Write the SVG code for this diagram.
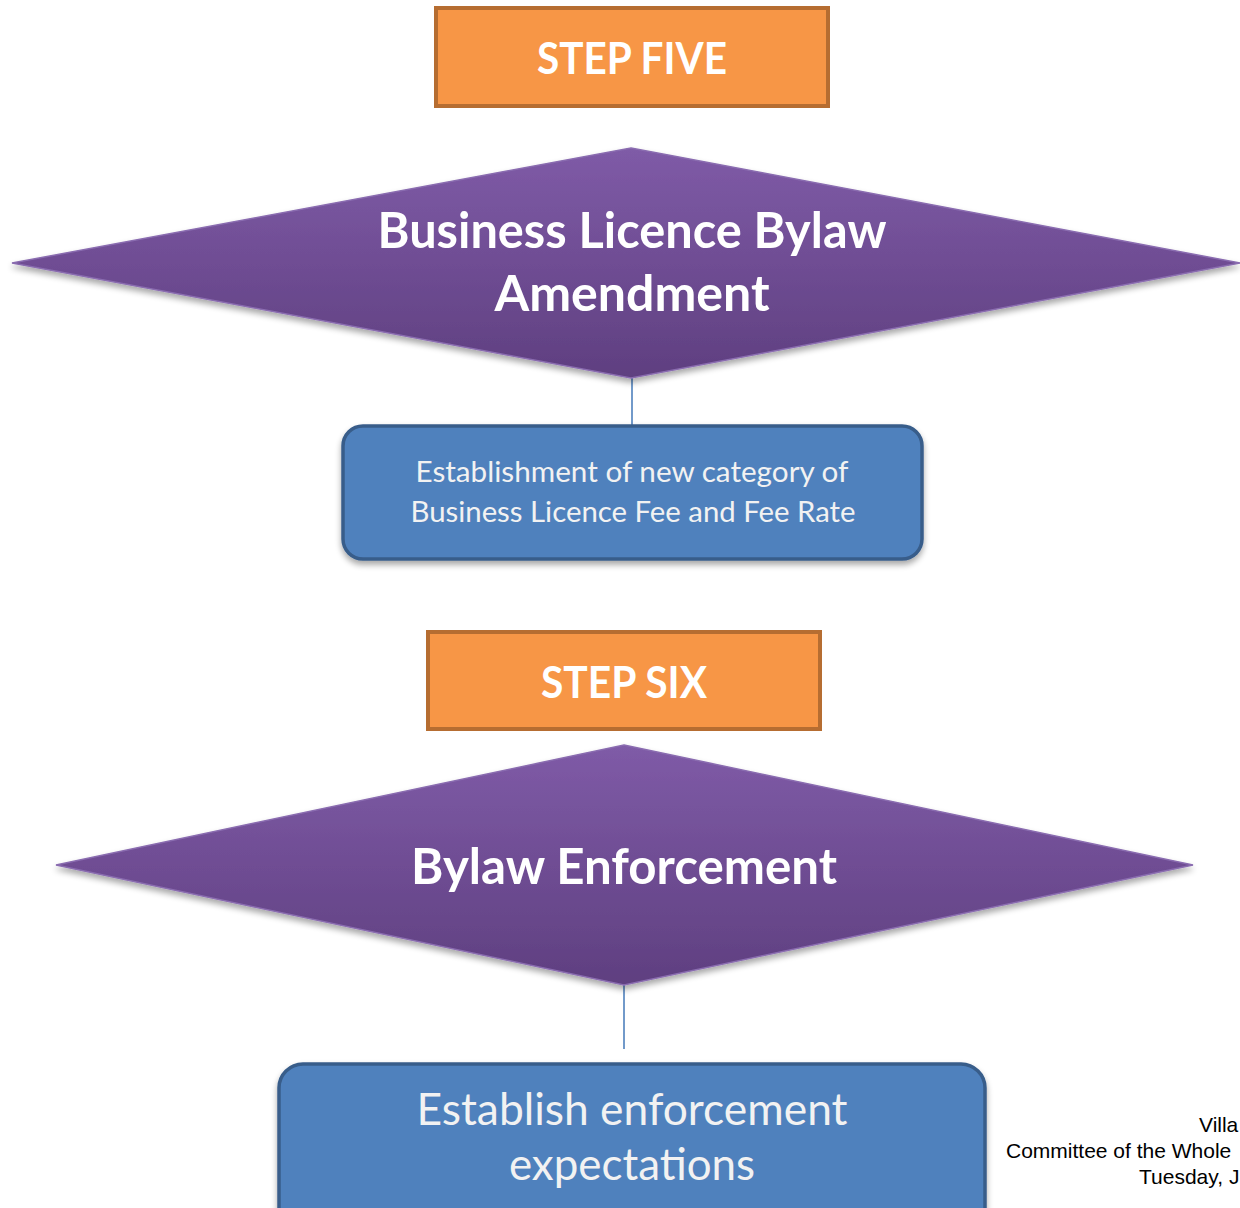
<svg xmlns="http://www.w3.org/2000/svg" width="1240" height="1208" viewBox="0 0 1240 1208">
  <defs>
    <linearGradient id="purpleFill" x1="0" y1="0" x2="0" y2="1">
      <stop offset="0" stop-color="#7F5BA7"/>
      <stop offset="1" stop-color="#5F3F80"/>
    </linearGradient>
    <filter id="softShadow" x="-5%" y="-10%" width="110%" height="130%">
      <feGaussianBlur in="SourceAlpha" stdDeviation="3"/>
      <feOffset dx="0" dy="4" result="blur"/>
      <feComponentTransfer><feFuncA type="linear" slope="0.35"/></feComponentTransfer>
      <feMerge><feMergeNode/><feMergeNode in="SourceGraphic"/></feMerge>
    </filter>
    <style>
      .step { fill: #F79646; stroke: #B66D31; stroke-width: 4; }
      .stepText { font-family: Lato, "Open Sans", sans-serif; font-weight: 700; font-size: 44px; fill: #FFFFFF; text-anchor: middle; }
      .diamond { fill: url(#purpleFill); stroke: #8A6CB0; stroke-width: 1.5; filter: url(#softShadow); }
      .diamondText { font-family: Lato, "Open Sans", sans-serif; font-weight: 700; font-size: 50px; fill: #FFFFFF; text-anchor: middle; }
      .task { fill: #4F81BD; stroke: #385D8A; stroke-width: 3.5; filter: url(#softShadow); }
      .taskText { font-family: Lato, "Open Sans", sans-serif; font-weight: 400; fill: #F2F2F2; text-anchor: middle; }
      .link { stroke: #4F81BD; stroke-width: 1.6; fill: none; }
      .footer { font-family: "Liberation Sans", Arial, sans-serif; font-size: 21px; fill: #000000; }
    </style>
  </defs>

  <rect width="1240" height="1208" fill="#FFFFFF"/>

  <!-- connectors between diamonds and task boxes -->
  <g id="connectors">
    <line class="link" x1="632" y1="378" x2="632" y2="426"/>
    <line class="link" x1="624" y1="985" x2="624" y2="1049"/>
  </g>

  <g id="step-five">
    <rect class="step" x="436" y="8" width="392" height="98"/>
    <text class="stepText" x="632" y="74" textLength="190" lengthAdjust="spacingAndGlyphs">STEP FIVE</text>
  </g>

  <g id="bylaw-amendment">
    <polygon class="diamond" points="631,148 1240,263 631,378 12,263"/>
    <text class="diamondText" x="632" y="248" textLength="509" lengthAdjust="spacingAndGlyphs">Business Licence Bylaw</text>
    <text class="diamondText" x="632" y="311" textLength="275" lengthAdjust="spacingAndGlyphs">Amendment</text>
  </g>

  <g id="fee-category">
    <rect class="task" x="343" y="426" width="579" height="133" rx="20" ry="20"/>
    <text class="taskText" x="632" y="482" font-size="28" textLength="433" lengthAdjust="spacingAndGlyphs">Establishment of new category of</text>
    <text class="taskText" x="633" y="522" font-size="28" textLength="445" lengthAdjust="spacingAndGlyphs">Business Licence Fee and Fee Rate</text>
  </g>

  <g id="step-six">
    <rect class="step" x="428" y="632" width="392" height="97"/>
    <text class="stepText" x="624" y="698" textLength="166" lengthAdjust="spacingAndGlyphs">STEP SIX</text>
  </g>

  <g id="bylaw-enforcement">
    <polygon class="diamond" points="624,745 1193,865 624,985 56,865"/>
    <text class="diamondText" x="624" y="884" textLength="426" lengthAdjust="spacingAndGlyphs">Bylaw Enforcement</text>
  </g>

  <g id="enforcement-expectations">
    <rect class="task" x="279" y="1064" width="706" height="170" rx="24" ry="24"/>
    <text class="taskText" x="632" y="1125" font-size="44" textLength="431" lengthAdjust="spacingAndGlyphs">Establish enforcement</text>
    <text class="taskText" x="632" y="1180" font-size="44" textLength="246" lengthAdjust="spacingAndGlyphs">expectations</text>
  </g>

  <g id="footer">
    <text class="footer" x="1199" y="1132">Villa</text>
    <text class="footer" x="1006" y="1158">Committee of the Whole</text>
    <text class="footer" x="1139" y="1184">Tuesday, J</text>
  </g>
</svg>
